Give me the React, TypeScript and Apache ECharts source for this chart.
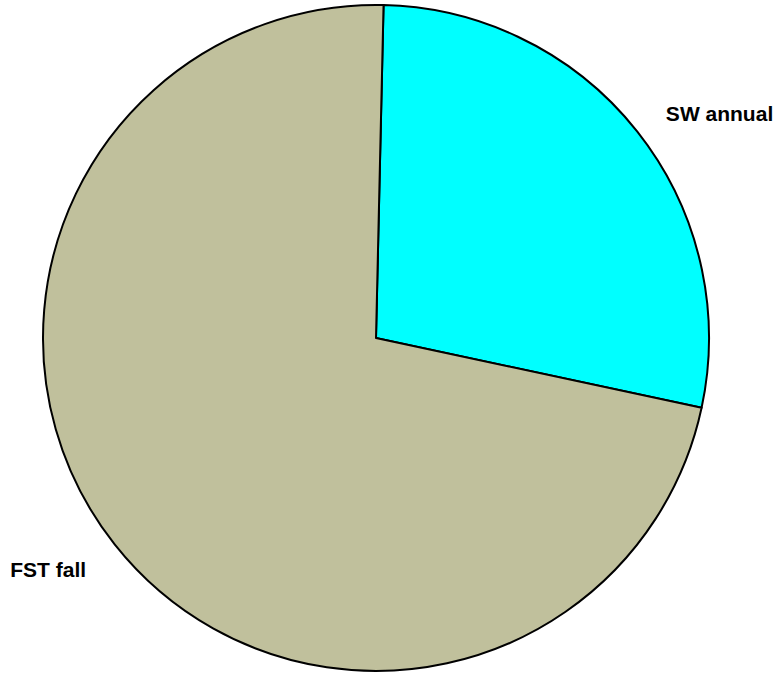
import React, { useEffect, useRef } from "react";
import * as echarts from "echarts";

const categories = ["SW annual", "FST fall"];
const values = [28, 72];
const colors = ["#00FFFF", "#C0C09C"];
const labelShiftY = [0, 7];

export default function App() {
  const ref = useRef<HTMLDivElement>(null);
  useEffect(() => {
    if (!ref.current) return;
    const chart = echarts.init(ref.current, null, { renderer: "svg" });
    chart.setOption({
      animation: false,
      backgroundColor: "#ffffff",
      series: [
        {
          type: "pie",
          center: [376, 338],
          radius: 333,
          startAngle: 88.7,
          clockwise: true,
          data: categories.map((c, i) => ({
            name: c,
            value: values[i],
            itemStyle: { color: colors[i] },
          })),
          itemStyle: { borderColor: "#000000", borderWidth: 2 },
          label: {
            show: true,
            position: "outside",
            formatter: "{b}",
            color: "#000000",
            fontFamily: "Liberation Sans, Arial, sans-serif",
            fontWeight: "bold",
            fontSize: 21,
            overflow: "none",
            width: 200,
          },
          labelLayout: (p: any) => ({ dy: labelShiftY[p.dataIndex] || 0 }),
          labelLine: { show: false, length: 30, length2: 0 },
          emphasis: { disabled: true },
        },
      ],
    });
    return () => chart.dispose();
  }, []);
  return (
    <div
      ref={ref}
      style={{ position: "fixed", left: 0, top: 0, width: 783, height: 673 }}
    />
  );
}
